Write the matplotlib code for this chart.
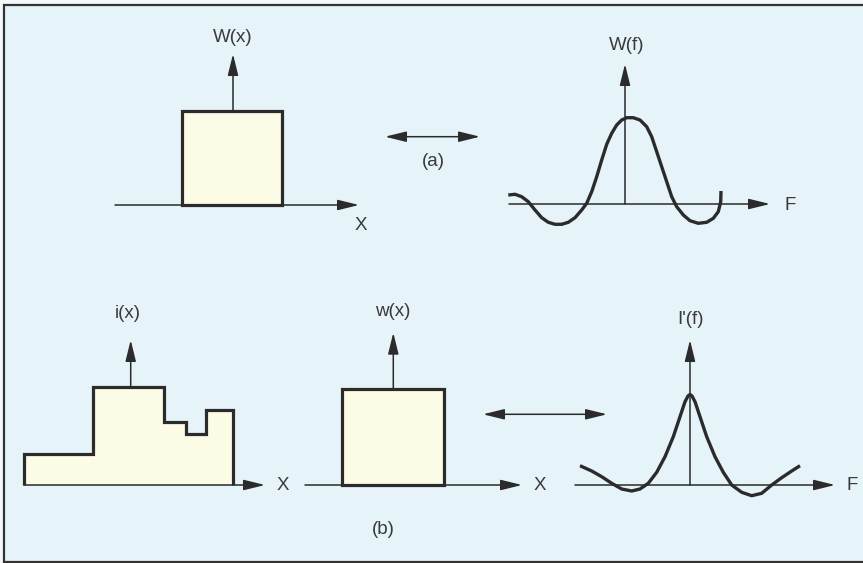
import matplotlib
matplotlib.use("Agg")
import matplotlib.pyplot as plt
from matplotlib.patches import FancyArrowPatch, Rectangle

plt.rcParams['font.family'] = ['Liberation Sans', 'DejaVu Sans']

# ---- data (pixel coordinates) ----
# (a) top-left: W(x) rectangle
wx_rect = [181.7, 281.7]          # left / right edges
wx_top = 111.0
axis_a_y = 205.0

# (a) top-right: W(f) curve
wf_x = [508.3, 515, 521.7, 528.3, 535, 541.7, 548.3, 555, 561.7, 568.3, 575,
        581.7, 586.7, 591.7, 596.7, 601.7, 606.7, 611.7, 616.7, 621.7, 626.7,
        633.3, 640, 646.7, 651.7, 656.7, 661.7, 666.7, 671.7, 676.7, 683.3,
        690, 698.3, 706.7, 713.3, 718.3, 720.7, 721]
wf_y = [195, 194.3, 196.7, 201.7, 210, 217.7, 222.3, 224.3, 224.3, 222.3,
        217.7, 210, 203.3, 191.7, 176.7, 160, 144.3, 133.3, 125, 120, 117.7,
        117.7, 120, 126.7, 136.7, 151.7, 166.7, 181.7, 196.7, 206.7, 215,
        220.7, 223.3, 222.3, 218.3, 211.7, 201.7, 191]

# (b) bottom-left: i(x) staircase
ix_edges = [24.3, 92.7, 164.3, 186.0, 206.0, 233.3]
ix_vals = [454.0, 386.7, 421.7, 434.0, 410.0]
axis_b_y = 485.0

# (b) bottom-middle: w(x) rectangle
wxb_rect = [341.7, 444.3]
wxb_top = 388.7

# (b) bottom-right: I'(f) curve
If_x = [580, 591.7, 601.7, 611.7, 621.7, 631.7, 640, 648.3, 656.7, 665,
        673.3, 680, 685, 688, 690, 692, 695, 700, 706.7, 715, 723.3, 731.7,
        741.7, 751.7, 761.7, 771.7, 781.7, 791.7, 800]
If_y = [465.7, 471, 476.7, 483.3, 489, 491, 489, 483.3, 472.3, 456.7, 436.7,
        416.7, 401.7, 396, 394.5, 396, 401.7, 416.7, 436.7, 456.7, 472.3, 485,
        492.3, 495.7, 493.3, 485, 477.7, 471, 465.7]

# ---- style ----
BG = '#e6f3f8'
FILL = '#fbfbe6'
INK = '#2b2b2b'
TXT = '#3a3a3a'
W, H = 863, 563

fig = plt.figure(figsize=(W / 100, H / 100), dpi=100, facecolor='#f4f8f8')
ax = fig.add_axes([0, 0, 1, 1])
ax.set_xlim(0, W)
ax.set_ylim(H, 0)
ax.axis('off')

# frame
ax.add_patch(Rectangle((4, 5), W + 10, 556.5, facecolor=BG, edgecolor='#333333',
                       lw=1.6, zorder=0))


def arrow(x0, y0, x1, y1, both=False, lw=1.1):
    style = '<|-|>' if both else '-|>'
    a = FancyArrowPatch((x0, y0), (x1, y1),
                        arrowstyle=f'{style},head_length=1.3,head_width=0.32',
                        mutation_scale=10, color=INK, lw=lw,
                        shrinkA=0, shrinkB=0, zorder=3)
    ax.add_patch(a)


def label(x, y, s, **kw):
    ax.text(x, y, s, fontsize=13.5, color=TXT, ha='center', va='center', **kw)


RECT_LW = 2.3
CURVE_LW = 2.4

# ---------- (a) left ----------
ax.add_patch(Rectangle((wx_rect[0], wx_top), wx_rect[1] - wx_rect[0],
                       axis_a_y - wx_top, facecolor=FILL, edgecolor=INK,
                       lw=RECT_LW, zorder=2, joinstyle='miter'))
arrow(115, axis_a_y, 359, axis_a_y)
arrow(233, wx_top, 233, 54)
label(233, 38, 'W(x)')
label(361, 225, 'X')

# double arrow (a)
arrow(385, 136.7, 480, 136.7, both=True)
label(433, 161, '(a)')

# ---------- (a) right ----------
arrow(509, 204, 770, 204)
arrow(625, 204, 625, 64)
ax.plot(wf_x, wf_y, color=INK, lw=CURVE_LW, solid_joinstyle='round',
        solid_capstyle='butt', zorder=4)
label(627, 45, 'W(f)')
label(790, 205, 'F')

# ---------- (b) left ----------
ax.stairs(ix_vals, ix_edges, baseline=axis_b_y, fill=True, color=FILL, zorder=2)
ax.stairs(ix_vals, ix_edges, baseline=axis_b_y, fill=False, color=INK,
          lw=RECT_LW, zorder=3)
arrow(24, axis_b_y, 265, axis_b_y)
arrow(130.7, ix_vals[1], 130.7, 340)
label(128, 314, 'i(x)')
label(283, 485, 'X')

# ---------- (b) middle ----------
ax.add_patch(Rectangle((wxb_rect[0], wxb_top), wxb_rect[1] - wxb_rect[0],
                       axis_b_y - wxb_top, facecolor=FILL, edgecolor=INK,
                       lw=RECT_LW, zorder=2, joinstyle='miter'))
arrow(305, axis_b_y, 522, axis_b_y)
arrow(393.3, wxb_top, 393.3, 332.7)
label(393, 312, 'w(x)')
label(540, 485, 'X')

arrow(483, 414.3, 607, 414.3, both=True)
label(383, 530, '(b)')

# ---------- (b) right ----------
arrow(575, axis_b_y, 835, axis_b_y)
arrow(690, axis_b_y, 690, 340)
ax.plot(If_x, If_y, color=INK, lw=CURVE_LW, solid_joinstyle='round',
        solid_capstyle='butt', zorder=4)
label(690, 320, "I'(f)")
label(852, 486, 'F')

fig.savefig('out.png', dpi=100, facecolor=fig.get_facecolor())
